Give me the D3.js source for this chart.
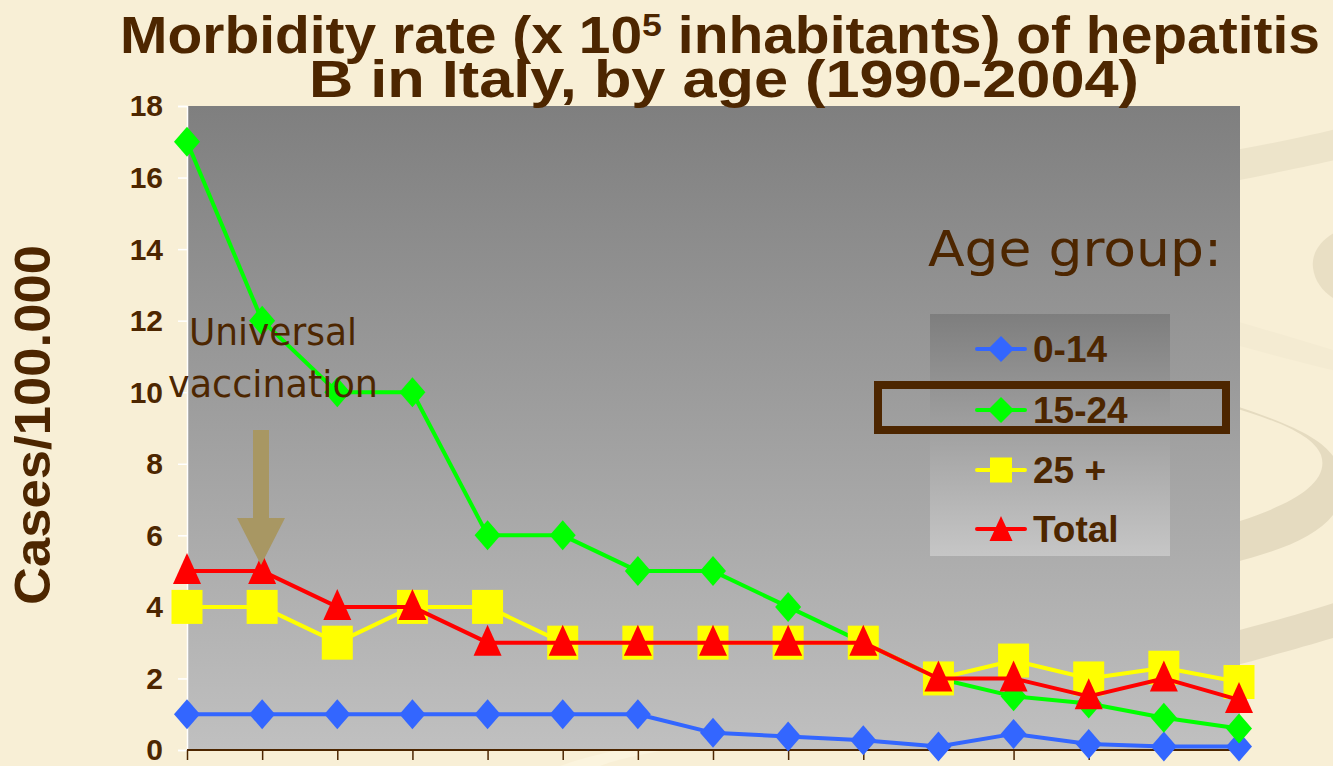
<!DOCTYPE html>
<html>
<head>
<meta charset="utf-8">
<script src="https://cdn.jsdelivr.net/npm/d3@7"></script>
<style>
  html, body { margin: 0; padding: 0; background: #F8EFD6; }
  svg { display: block; }
</style>
</head>
<body>
<script>
// Hepatitis B morbidity in Italy, cases per 100,000 by age group, 1990-2004
const years = [1990, 1991, 1992, 1993, 1994, 1995, 1996, 1997, 1998, 1999, 2000, 2001, 2002, 2003, 2004];
const age0to14  = [1, 1, 1, 1, 1, 1, 1, 0.48, 0.38, 0.27, 0.1, 0.45, 0.17, 0.1, 0.1];
const age15to24 = [17, 12, 10, 10, 6, 6, 5, 5, 4, 3, 2, 1.5, 1.3, 0.9, 0.6];
const age25plus = [4, 4, 3, 4, 4, 3, 3, 3, 3, 3, 2, 2.5, 2, 2.3, 1.9];
const total     = [5, 5, 4, 4, 3, 3, 3, 3, 3, 3, 2, 2, 1.5, 2, 1.4];
const yTicks = [0, 2, 4, 6, 8, 10, 12, 14, 16, 18];
const seriesNames = ["0-14", "15-24", "25 +", "Total"];
const seriesColors = ["#3366FF", "#00FF00", "#FFFF00", "#FF0000"];
const seriesShapes = ["diamond", "diamond", "square", "triangle"];

const W = 1333, H = 766;
const brown = "#4D2600";
const boldFont = "Liberation Sans, Arial, sans-serif";
const plainFont = "DejaVu Sans, sans-serif";
const svg = d3.select("body").append("svg").attr("width", W).attr("height", H);

// Decorative background swirls on the right margin
const bg = svg.append("g").attr("stroke", "none");
bg.append("path").attr("fill", "#EDE4CA")
  .attr("d", "M1180,160 C1250,148 1300,138 1340,128 L1340,159 C1300,168 1260,176 1180,192 Z");
bg.append("path").attr("fill", "#E9DFC4")
  .attr("d", "M1340,230 C1322,238 1311,252 1313,268 C1315,284 1326,295 1340,302 Z");
bg.append("path").attr("fill", "#F4EBD2")
  .attr("d", "M1180,305 C1240,322 1290,337 1340,352 L1340,372 C1290,360 1240,346 1180,330 Z");
bg.append("path").attr("fill", "#E5DBC0")
  .attr("d", "M1180,392 C1250,412 1310,428 1321,455 C1330,482 1295,503 1240,521 C1220,527 1200,531 1180,535 L1180,575 C1250,560 1310,545 1333,515 L1340,500 L1340,470 C1330,440 1300,425 1180,388 Z");
bg.append("path").attr("fill", "#E6DCC2")
  .attr("d", "M1180,645 C1250,628 1300,614 1340,601 L1340,636 C1300,648 1250,662 1180,680 Z");
bg.append("path").attr("fill", "#FBF4DE")
  .attr("d", "M560,766 C600,752 650,742 720,735 L720,742 C660,750 620,758 600,766 Z");

const defs = svg.append("defs");
const g1 = defs.append("linearGradient").attr("id", "plotGrad").attr("x1", 0).attr("y1", 0).attr("x2", 0).attr("y2", 1);
g1.append("stop").attr("offset", "0%").attr("stop-color", "#7F7F7F");
g1.append("stop").attr("offset", "100%").attr("stop-color", "#C0C0C0");
const g2 = defs.append("linearGradient").attr("id", "legGrad").attr("x1", 0).attr("y1", 0).attr("x2", 0).attr("y2", 1);
g2.append("stop").attr("offset", "0%").attr("stop-color", "#7E7E7E");
g2.append("stop").attr("offset", "100%").attr("stop-color", "#C6C6C6");

const plotLeft = 187, plotRight = 1240, plotTop = 106, plotBottom = 750;
const x = d3.scalePoint().domain(years).range([plotLeft, 1239]).padding(0);
const y = d3.scaleLinear().domain([0, 18]).range([plotBottom, plotTop]);

// Plot area
svg.append("rect").attr("x", plotLeft).attr("y", plotTop).attr("width", plotRight - plotLeft).attr("height", plotBottom - plotTop)
  .attr("fill", "url(#plotGrad)");

// Y axis
const yAxis = svg.append("g").attr("transform", `translate(${plotLeft},0)`)
  .call(d3.axisLeft(y).tickValues(yTicks).tickSize(9).tickPadding(15).tickFormat(d3.format("d")));
yAxis.select(".domain").attr("stroke", "#FFFFFF").attr("stroke-width", 1.5);
yAxis.selectAll(".tick line").attr("stroke", "#FFFFFF").attr("stroke-width", 1.5);
yAxis.selectAll(".tick text").attr("fill", brown).attr("font-family", boldFont)
  .attr("font-weight", "bold").attr("font-size", 30).attr("dy", "0.33em");

// X axis (categories without labels)
const xAxis = svg.append("g").attr("transform", `translate(0,${plotBottom})`)
  .call(d3.axisBottom(x).tickSize(10).tickSizeOuter(0).tickFormat(""));
xAxis.select(".domain").attr("stroke", brown).attr("stroke-width", 2).attr("d", `M${plotLeft},0H${plotRight}`);
xAxis.selectAll(".tick line").attr("stroke", brown).attr("stroke-width", 1.5);

// Marker shapes
function marker(sel, shape, color) {
  if (shape === "diamond") {
    sel.append("path").attr("d", "M0,-15 L13,0 L0,15 L-13,0 Z").attr("fill", color);
  } else if (shape === "square") {
    sel.append("rect").attr("x", -15.5).attr("y", -17).attr("width", 31).attr("height", 34).attr("fill", color);
  } else {
    sel.append("path").attr("d", "M0,-18 L14,13 L-14,13 Z").attr("fill", color);
  }
}

const seriesData = [age0to14, age15to24, age25plus, total];
const line = d3.line().x((d, i) => x(years[i])).y(d => y(d));
seriesData.forEach((vals, s) => {
  const g = svg.append("g");
  g.append("path").datum(vals).attr("d", line).attr("fill", "none")
    .attr("stroke", seriesColors[s]).attr("stroke-width", 4).attr("stroke-linejoin", "round");
  g.selectAll("g.pt").data(vals).join("g").attr("class", "pt")
    .attr("transform", (d, i) => `translate(${x(years[i])},${y(d)})`)
    .each(function () { marker(d3.select(this), seriesShapes[s], seriesColors[s]); });
});

// Titles
const t1 = svg.append("text").attr("x", 720).attr("y", 53).attr("text-anchor", "middle")
  .attr("font-family", boldFont).attr("font-weight", "bold").attr("font-size", 51)
  .attr("fill", brown).attr("textLength", 1200).attr("lengthAdjust", "spacingAndGlyphs");
t1.append("tspan").text("Morbidity rate (x 10");
t1.append("tspan").attr("dy", -17).attr("font-size", 32).text("5");
t1.append("tspan").attr("dy", 17).text(" inhabitants) of hepatitis");
svg.append("text").attr("x", 724).attr("y", 97).attr("text-anchor", "middle")
  .attr("font-family", boldFont).attr("font-weight", "bold").attr("font-size", 51)
  .attr("fill", brown).attr("textLength", 830).attr("lengthAdjust", "spacingAndGlyphs")
  .text("B in Italy, by age (1990-2004)");

// Y axis title
svg.append("text").attr("transform", "translate(50,425) rotate(-90)").attr("text-anchor", "middle")
  .attr("font-family", boldFont).attr("font-weight", "bold").attr("font-size", 50)
  .attr("fill", brown).attr("textLength", 360).attr("lengthAdjust", "spacingAndGlyphs")
  .text("Cases/100.000");

// Annotation: universal vaccination
svg.append("text").attr("x", 273).attr("y", 345).attr("text-anchor", "middle")
  .attr("font-family", plainFont).attr("font-size", 38).attr("fill", brown)
  .attr("textLength", 168).attr("lengthAdjust", "spacingAndGlyphs").text("Universal");
svg.append("text").attr("x", 273).attr("y", 397).attr("text-anchor", "middle")
  .attr("font-family", plainFont).attr("font-size", 38).attr("fill", brown)
  .attr("textLength", 210).attr("lengthAdjust", "spacingAndGlyphs").text("vaccination");
svg.append("path").attr("d", "M253,430 H269 V518 H285 L261,565 L237,518 H253 Z").attr("fill", "#A89763");

// Legend
svg.append("text").attr("x", 1222).attr("y", 266).attr("text-anchor", "end")
  .attr("font-family", plainFont).attr("font-size", 50).attr("fill", brown)
  .attr("textLength", 294).attr("lengthAdjust", "spacingAndGlyphs").text("Age group:");
svg.append("rect").attr("x", 930).attr("y", 314).attr("width", 240).attr("height", 242).attr("fill", "url(#legGrad)");
const legendY = [349, 410, 470, 529];
seriesNames.forEach((name, s) => {
  const g = svg.append("g").attr("transform", `translate(1001,${legendY[s]})`);
  g.append("line").attr("x1", -24).attr("x2", 24).attr("stroke", seriesColors[s]).attr("stroke-width", 4).attr("stroke-linecap", "round");
  if (seriesShapes[s] === "diamond") g.append("path").attr("d", "M0,-13 L13,0 L0,13 L-13,0 Z").attr("fill", seriesColors[s]);
  else if (seriesShapes[s] === "square") g.append("rect").attr("x", -11).attr("y", -12.5).attr("width", 22).attr("height", 25).attr("fill", seriesColors[s]);
  else g.append("path").attr("d", "M0,-13 L11.5,12 L-11.5,12 Z").attr("fill", seriesColors[s]);
  g.append("text").attr("x", 32).attr("dy", "0.36em").attr("font-family", boldFont)
    .attr("font-weight", "bold").attr("font-size", 37).attr("fill", brown).text(name);
});
// Highlight around the 15-24 group
svg.append("rect").attr("x", 878).attr("y", 385).attr("width", 348).attr("height", 45)
  .attr("fill", "none").attr("stroke", "#4D2600").attr("stroke-width", 8);
</script>
</body>
</html>
